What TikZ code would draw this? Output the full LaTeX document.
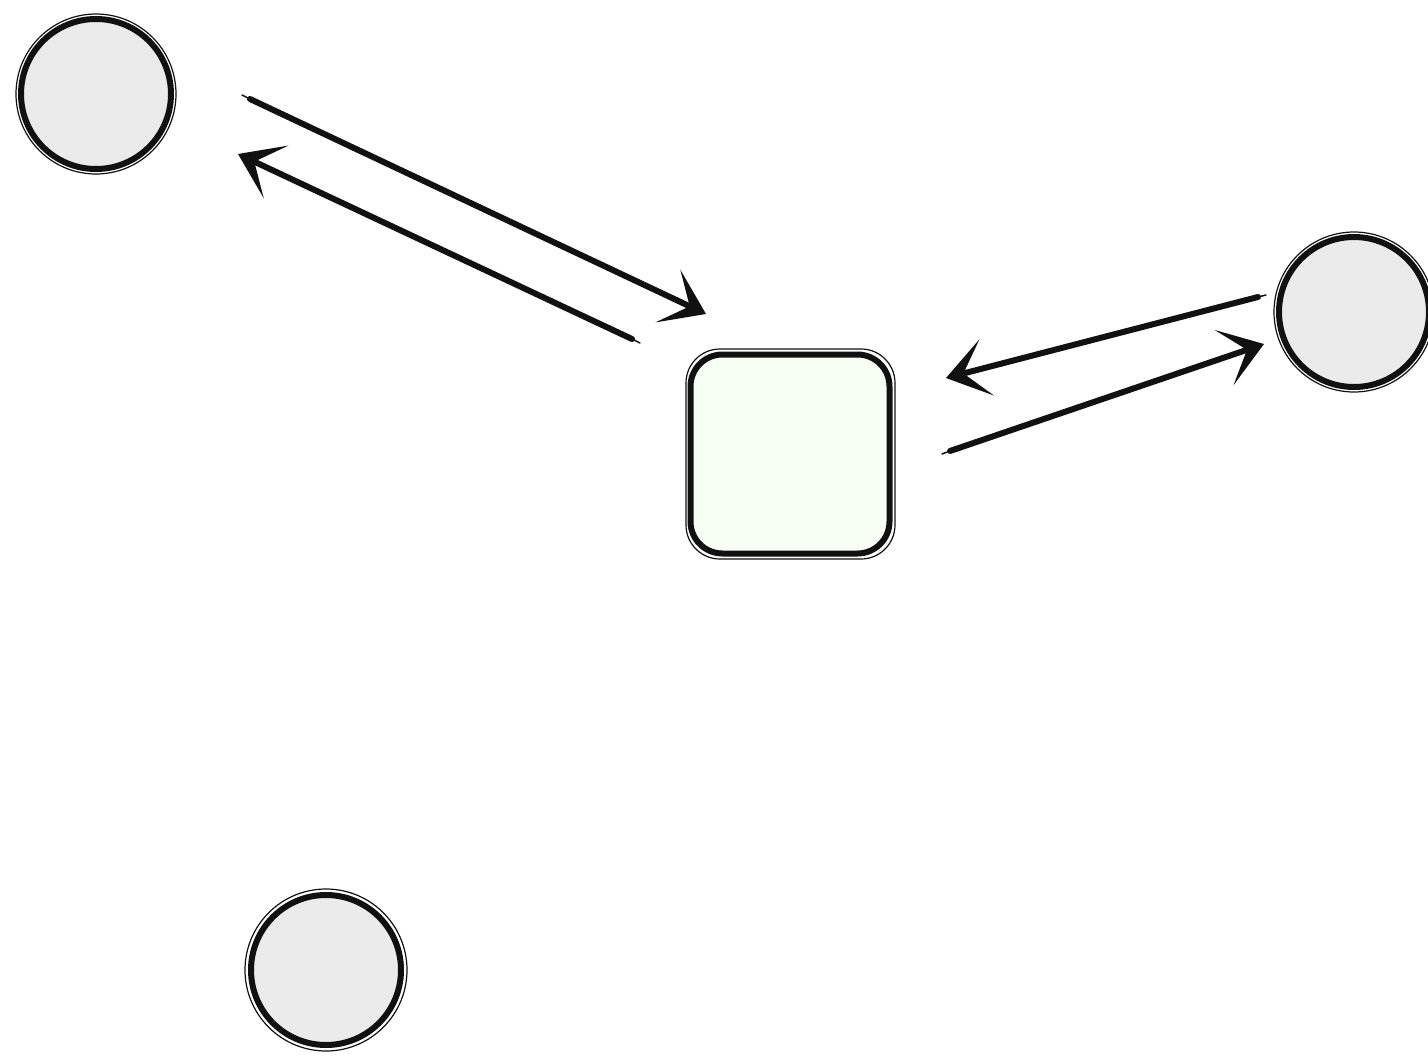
\documentclass[tikz,border=0pt]{standalone}
\usetikzlibrary{arrows.meta}
\definecolor{circfill}{HTML}{EBEBEB}
\definecolor{boxfill}{HTML}{F7FFF4}
\definecolor{ink}{HTML}{111111}
\tikzset{
  peer/.style={circle, draw=ink, line width=6pt, fill=circfill, minimum size=150pt, inner sep=0pt},
  hub/.style={rectangle, rounded corners=32pt, draw=ink, line width=6pt, fill=boxfill, minimum width=199pt, minimum height=199pt, inner sep=0pt},
  flow/.style={draw=ink, line width=6pt, line cap=round, -{Stealth[length=42pt,width=58pt,inset=24pt]}},
  sketch/.style={draw=ink, line width=1.2pt, line cap=round},
  thinline/.style={draw=ink, line width=1.5pt, line cap=round}
}
\begin{document}
\begin{tikzpicture}[x=1pt,y=-1pt]
\useasboundingbox (0,0) rectangle (1428,1057);
\fill[white] (0,0) rectangle (1428,1057);
\node[peer] (p1) at (96,94) {};
\node[peer] (p2) at (1354,312) {};
\node[peer] (p3) at (326,970) {};
\node[hub] (h) at (790,454) {};
% sketchy double outlines
\draw[sketch] (p1.center) circle (80pt);
\draw[sketch] (p2.center) circle (80pt);
\draw[sketch] (p3.center) circle (81pt);
\draw[sketch, rounded corners=34pt] (686,349) rectangle (895,559);
% free ends of the arrows
\coordinate (a1s) at (250,99);
\coordinate (a1e) at (706,314);
\coordinate (a2s) at (632,339);
\coordinate (a2e) at (238,154);
\coordinate (a3s) at (1258,297);
\coordinate (a3e) at (946,378);
\coordinate (a4s) at (950,451);
\coordinate (a4e) at (1264,344);
\coordinate (t1) at (242,95);
\coordinate (t2) at (640,343);
\coordinate (t3) at (1266,295);
\coordinate (t4) at (942,454);
\draw[thinline] (t1) -- (a1s);
\draw[thinline] (t2) -- (a2s);
\draw[thinline] (t3) -- (a3s);
\draw[thinline] (t4) -- (a4s);
\draw[flow] (a1s) -- (a1e);
\draw[flow] (a2s) -- (a2e);
\draw[flow] (a3s) -- (a3e);
\draw[flow] (a4s) -- (a4e);
\end{tikzpicture}
\end{document}
